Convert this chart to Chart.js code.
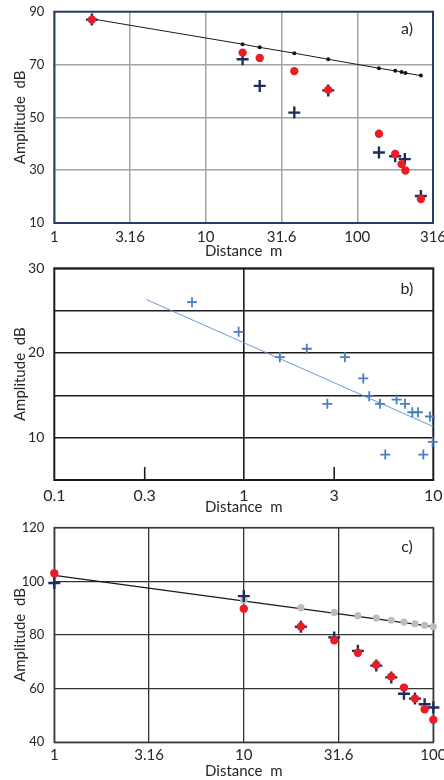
<!DOCTYPE html>
<html>
<head>
<meta charset="utf-8">
<script src="https://cdn.jsdelivr.net/npm/chart.js@4.4.1/dist/chart.umd.min.js"></script>
<style>
  html, body { margin: 0; padding: 0; background: #fff; }
  body { width: 444px; height: 780px; position: relative; overflow: hidden; }
  canvas { position: absolute; left: 0; }
</style>
</head>
<body>
<canvas id="ca" width="444" height="262" style="top:0"></canvas>
<canvas id="cb" width="444" height="265" style="top:255px"></canvas>
<canvas id="cc" width="444" height="265" style="top:515px"></canvas>
<script>
// ---- Panel a) : amplitude vs distance, 1–316 m ----
const distA      = [1.77, 17.5, 22.7, 38.4, 64.3, 139, 178, 196, 208, 263];
const fitA       = [87.3, 77.7, 76.5, 74.3, 72.0, 68.6, 67.6, 67.2, 66.8, 65.8];
const measA      = [87.0, 74.5, 72.5, 67.5, 60.4, 43.8, 36.1, 32.3, 29.9, 19.1];
const crossDistA = [1.77, 17.5, 22.7, 38.4, 64.3, 139, 178, 206, 263];
const crossA     = [87.0, 72.0, 61.9, 51.8, 60.2, 36.7, 35.3, 34.2, 20.2];
const xTickValsA = [1, 3.162, 10, 31.62, 100, 316.2];
const xTickLblA  = ['1', '3.16', '10', '31.6', '100', '316'];
const yTickValsA = [10, 30, 50, 70, 90];

// ---- Panel b) : amplitude vs distance, 0.1–10 m ----
const distB      = [0.533, 0.939, 1.55, 2.15, 2.76, 3.42, 4.27, 4.59, 5.23, 5.58, 6.40, 7.09, 7.75, 8.30, 8.86, 9.60, 9.92];
const ampB       = [26.0, 22.5, 19.5, 20.5, 14.0, 19.5, 17.0, 14.9, 14.0, 8.0, 14.5, 14.0, 13.0, 13.0, 8.0, 12.5, 9.5];
const trendDistB = [0.307, 10];
const trendB     = [26.3, 11.3];
const xTickValsB = [0.1, 0.3, 1, 3, 10];
const xTickLblB  = ['0.1', '0.3', '1', '3', '10'];
const yTickValsB = [5, 10, 15, 20, 25, 30];
const yTickLblB  = ['', '10', '', '20', '', '30'];

// ---- Panel c) : amplitude vs distance, 1–100 m ----
const distC      = [1, 10, 20, 30, 40, 50, 60, 70, 80, 90, 100];
const measC      = [103.0, 89.8, 83.2, 78.0, 73.4, 68.9, 64.5, 60.4, 56.3, 52.3, 48.4];
const crossC     = [99.4, 94.5, 83.1, 79.1, 74.1, 68.6, 64.2, 58.1, 56.3, 54.2, 53.0];
const refDistC   = [10, 20, 30, 40, 50, 60, 70, 80, 90, 100];
const refC       = [93.0, 90.2, 88.4, 87.2, 86.3, 85.5, 84.8, 84.2, 83.6, 83.1];
const trendDistC = [1, 100];
const trendC     = [102.2, 83.1];
const xTickValsC = [1, 3.162, 10, 31.62, 100];
const xTickLblC  = ['1', '3.16', '10', '31.6', '100'];
const yTickValsC = [40, 60, 80, 100, 120];

const FONT = 'Lato, "Open Sans", "DejaVu Sans", sans-serif';
const TXT = '#262626';

const pts = (xs, ys) => xs.map((x, i) => ({ x, y: ys[i] }));

// Plot frame, inner tick marks and panel tag
const framePlugin = {
  id: 'frame',
  beforeDatasetsDraw(chart, args, o) {
    const { ctx, chartArea: a } = chart;
    ctx.save();
    ctx.strokeStyle = o.color;
    ctx.lineWidth = o.width;
    if (o.marks) {
      const xs = chart.scales.x;
      ctx.lineWidth = 1.6;
      o.marks.forEach(v => {
        const px = xs.getPixelForValue(v);
        ctx.beginPath();
        ctx.moveTo(px, a.bottom);
        ctx.lineTo(px, a.bottom - o.markLen);
        ctx.stroke();
      });
      ctx.lineWidth = o.width;
    }
    ctx.strokeRect(a.left, a.top, a.right - a.left, a.bottom - a.top);
    ctx.fillStyle = TXT;
    ctx.font = '16px ' + FONT;
    ctx.textAlign = 'center';
    ctx.textBaseline = 'middle';
    ctx.fillText(o.tag, o.tagX, a.top + o.tagDy);
    ctx.restore();
  }
};

function fixSize(prop, size) {
  return s => {
    s[prop] = size;
    s.paddingLeft = s.paddingRight = s.paddingTop = s.paddingBottom = 0;
  };
}

function makeChart(id, cfg) {
  return new Chart(document.getElementById(id), {
    type: 'scatter',
    data: { datasets: cfg.datasets },
    plugins: [framePlugin],
    options: {
      responsive: false,
      animation: false,
      events: [],
      layout: { padding: { top: cfg.padTop, right: cfg.padRight, left: 0, bottom: 0 } },
      plugins: {
        legend: { display: false },
        tooltip: { enabled: false },
        frame: cfg.frame
      },
      scales: {
        x: {
          type: 'logarithmic',
          min: cfg.xTicks[0],
          max: cfg.xTicks[cfg.xTicks.length - 1],
          afterBuildTicks: s => { s.ticks = cfg.xTicks.map(v => ({ value: v })); },
          afterFit: fixSize('height', cfg.xHeight),
          ticks: {
            autoSkip: false, maxRotation: 0,
            padding: cfg.xPad,
            color: TXT,
            font: { family: FONT, size: cfg.xFont },
            callback: (v, i) => cfg.xLabels[i]
          },
          grid: { display: cfg.xGrid !== false, color: cfg.gridColor, lineWidth: cfg.gridWidth, drawTicks: false },
          border: { display: false },
          title: {
            display: true, text: 'Distance  m', color: TXT,
            font: { family: FONT, size: 15 },
            padding: { top: 0, bottom: cfg.xTitlePad }
          }
        },
        y: {
          type: 'linear',
          min: cfg.yTicks[0],
          max: cfg.yTicks[cfg.yTicks.length - 1],
          afterBuildTicks: s => { s.ticks = cfg.yTicks.map(v => ({ value: v })); },
          afterFit: fixSize('width', 54.3),
          ticks: {
            padding: 10,
            color: TXT,
            font: { family: FONT, size: cfg.yFont },
            callback: (v, i) => cfg.yLabels ? cfg.yLabels[i] : String(v)
          },
          grid: { color: cfg.gridColor, lineWidth: cfg.gridWidth, drawTicks: false },
          border: { display: false },
          title: {
            display: true, text: 'Amplitude  dB', color: TXT,
            font: { family: FONT, size: 15 },
            padding: { top: 11, bottom: 0 }
          }
        }
      }
    }
  });
}

const RED = '#EC1C24';
const NAVY = '#1F2D5C';

// a)
makeChart('ca', {
  padTop: 11.7, padRight: 11, xHeight: 39, xPad: 5, xTitlePad: 1.5,
  xTicks: xTickValsA, xLabels: xTickLblA, xFont: 15,
  yTicks: yTickValsA, yFont: 13,
  gridColor: '#A3A3A3', gridWidth: 1.5,
  frame: { color: '#2C3A6A', width: 2, tag: 'a)', tagX: 407, tagDy: 17 },
  datasets: [
    { data: pts(distA, measA), pointStyle: 'circle', pointRadius: 4.2, backgroundColor: RED, borderWidth: 0, clip: false },
    { data: pts(crossDistA, crossA), pointStyle: 'cross', pointRadius: 6, borderColor: NAVY, borderWidth: 2.4, clip: false },
    { data: pts(distA, fitA), showLine: true, borderColor: '#1A1A1A', borderWidth: 1, pointRadius: 2, pointBackgroundColor: '#111', pointBorderWidth: 0, clip: false }
  ]
});

// b)
makeChart('cb', {
  padTop: 13.3, padRight: 10.7, xHeight: 40, xPad: 6, xTitlePad: 3.5,
  xTicks: xTickValsB, xLabels: xTickLblB, xFont: 16, xGrid: true,
  yTicks: yTickValsB, yLabels: yTickLblB, yFont: 14,
  gridColor: ctx => (ctx.scale.axis === 'x' && ctx.tick && ctx.tick.value !== 1) ? 'rgba(0,0,0,0)' : '#1C1C1C',
  gridWidth: 1.6,
  frame: { color: '#1C1C1C', width: 2, tag: 'b)', tagX: 407, tagDy: 21, marks: [0.3, 3], markLen: 13 },
  datasets: [
    { data: pts(distB, ampB), pointStyle: 'cross', pointRadius: 5, borderColor: '#4A7EC4', borderWidth: 1.8, clip: false },
    { data: pts(trendDistB, trendB), showLine: true, borderColor: '#6E98CF', borderWidth: 1, pointRadius: 0, clip: false }
  ]
});

// c)
makeChart('cc', {
  padTop: 12.7, padRight: 10.7, xHeight: 37.7, xPad: 4, xTitlePad: 0,
  xTicks: xTickValsC, xLabels: xTickLblC, xFont: 15,
  yTicks: yTickValsC, yFont: 13,
  gridColor: '#333333', gridWidth: 1.3,
  frame: { color: '#3A3A3A', width: 1.6, tag: 'c)', tagX: 407, tagDy: 19 },
  datasets: [
    { data: pts(distC, measC), pointStyle: 'circle', pointRadius: 4.2, backgroundColor: RED, borderWidth: 0, clip: false },
    { data: pts(distC, crossC), pointStyle: 'cross', pointRadius: 6, borderColor: NAVY, borderWidth: 2.4, clip: false },
    { data: pts(refDistC, refC), pointStyle: 'circle', pointRadius: 3.6, backgroundColor: '#BDBDBD', borderWidth: 0, clip: false },
    { data: pts(trendDistC, trendC), showLine: true, borderColor: '#1A1A1A', borderWidth: 1.2, pointRadius: 0, clip: false }
  ]
});
</script>
</body>
</html>
